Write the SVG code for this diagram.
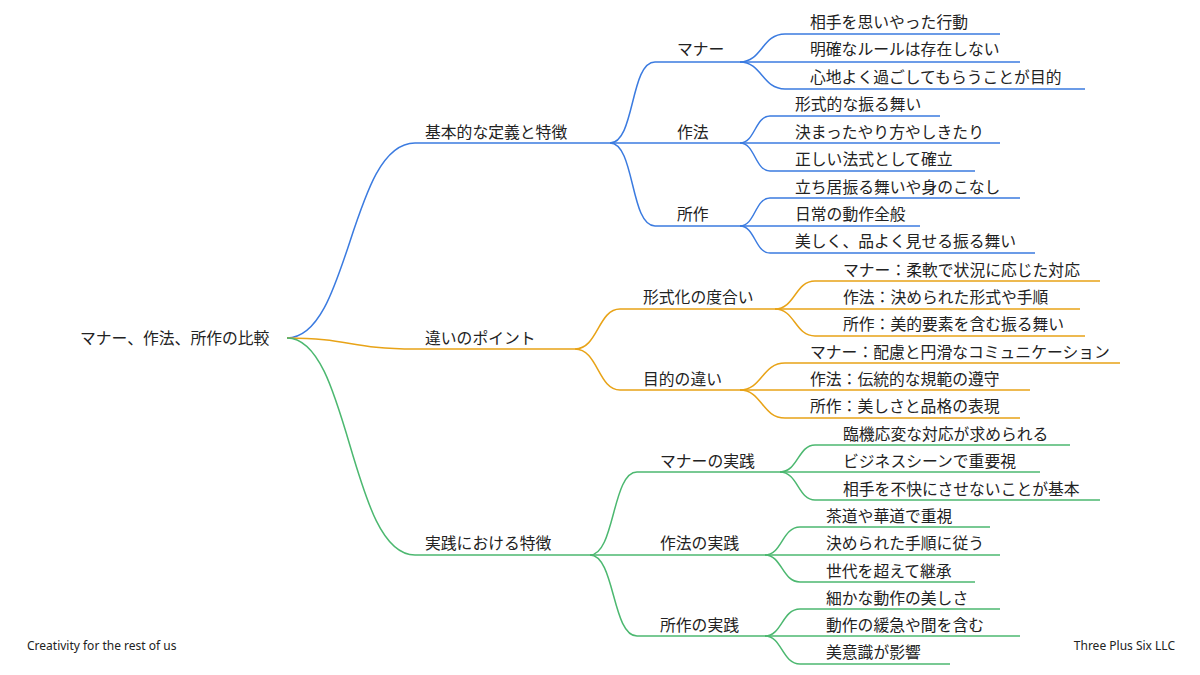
<svg xmlns="http://www.w3.org/2000/svg" width="1200" height="675" viewBox="0 0 1200 675">
<style>
text{font-family:"Noto Sans CJK JP","Noto Sans",sans-serif;font-size:15.8px;fill:#222;dominant-baseline:middle}
.f{font-family:"Noto Sans","Liberation Sans",sans-serif;font-size:12px}
path{fill:none;stroke-width:1.5}
.b path{stroke:#3b7be0}.o path{stroke:#e8a317}.g path{stroke:#4cb870}
</style>
<rect width="1200" height="675" fill="#fff"/>
<g id="connectors">
<g class="b">
<path d="M287,338 C350,338 350,143 415,143 H610"/>
<path d="M610,143 C635,143 630,62 655,62 H740"/>
<path d="M740,62 C762,62 762,34 785,34 H1000"/>
<path d="M740,62 C762,62 762,62 785,62 H1020"/>
<path d="M740,62 C762,62 762,89 785,89 H1085"/>
<path d="M610,143 C635,143 630,143 655,143 H740"/>
<path d="M740,143 C755,143 755,116 770,116 H940"/>
<path d="M740,143 C755,143 755,143 770,143 H1000"/>
<path d="M740,143 C755,143 755,171 770,171 H975"/>
<path d="M610,143 C635,143 630,226 655,226 H740"/>
<path d="M740,226 C755,226 755,198 770,198 H1020"/>
<path d="M740,226 C755,226 755,226 770,226 H920"/>
<path d="M740,226 C755,226 755,253 770,253 H1035"/>
</g>
<g class="o">
<path d="M287,338 C350,338 350,349 415,349 H575"/>
<path d="M575,349 C598,349 598,309 620,309 H775"/>
<path d="M775,309 C795,309 795,281 815,281 H1100"/>
<path d="M775,309 C795,309 795,309 815,309 H1080"/>
<path d="M775,309 C795,309 795,336 815,336 H1085"/>
<path d="M575,349 C598,349 598,390 620,390 H740"/>
<path d="M740,390 C762,390 762,363 785,363 H1120"/>
<path d="M740,390 C762,390 762,390 785,390 H1030"/>
<path d="M740,390 C762,390 762,418 785,418 H1020"/>
</g>
<g class="g">
<path d="M287,338 C350,338 350,555 415,555 H590"/>
<path d="M590,555 C615,555 612,472 637,472 H780"/>
<path d="M780,472 C798,472 798,445 815,445 H1070"/>
<path d="M780,472 C798,472 798,472 815,472 H1040"/>
<path d="M780,472 C798,472 798,500 815,500 H1100"/>
<path d="M590,555 C615,555 612,555 637,555 H765"/>
<path d="M765,555 C782,555 782,527 800,527 H990"/>
<path d="M765,555 C782,555 782,555 800,555 H1000"/>
<path d="M765,555 C782,555 782,582 800,582 H975"/>
<path d="M590,555 C615,555 612,636 637,636 H765"/>
<path d="M765,636 C782,636 782,609 800,609 H1000"/>
<path d="M765,636 C782,636 782,636 800,636 H1020"/>
<path d="M765,636 C782,636 782,664 800,664 H950"/>
</g>
</g>
<g transform="translate(0,2)">
<g id="root"><text x="80" y="338">マナー、作法、所作の比較</text></g>
<g id="n1"><text x="425" y="132">基本的な定義と特徴</text></g>
<g id="n11"><text x="677" y="49">マナー</text></g>
<g id="n111"><text x="810" y="22">相手を思いやった行動</text></g>
<g id="n112"><text x="810" y="49">明確なルールは存在しない</text></g>
<g id="n113"><text x="810" y="77">心地よく過ごしてもらうことが目的</text></g>
<g id="n12"><text x="677" y="132">作法</text></g>
<g id="n121"><text x="795" y="104">形式的な振る舞い</text></g>
<g id="n122"><text x="795" y="132">決まったやり方やしきたり</text></g>
<g id="n123"><text x="795" y="159">正しい法式として確立</text></g>
<g id="n13"><text x="677" y="214">所作</text></g>
<g id="n131"><text x="795" y="187">立ち居振る舞いや身のこなし</text></g>
<g id="n132"><text x="795" y="214">日常の動作全般</text></g>
<g id="n133"><text x="795" y="241">美しく、品よく見せる振る舞い</text></g>
<g id="n2"><text x="425" y="338">違いのポイント</text></g>
<g id="n21"><text x="643" y="297">形式化の度合い</text></g>
<g id="n211"><text x="843" y="270">マナー：柔軟で状況に応じた対応</text></g>
<g id="n212"><text x="843" y="297">作法：決められた形式や手順</text></g>
<g id="n213"><text x="843" y="324">所作：美的要素を含む振る舞い</text></g>
<g id="n22"><text x="643" y="379">目的の違い</text></g>
<g id="n221"><text x="810" y="352">マナー：配慮と円滑なコミュニケーション</text></g>
<g id="n222"><text x="810" y="379">作法：伝統的な規範の遵守</text></g>
<g id="n223"><text x="810" y="406">所作：美しさと品格の表現</text></g>
<g id="n3"><text x="425" y="543">実践における特徴</text></g>
<g id="n31"><text x="660" y="461">マナーの実践</text></g>
<g id="n311"><text x="843" y="434">臨機応変な対応が求められる</text></g>
<g id="n312"><text x="843" y="461">ビジネスシーンで重要視</text></g>
<g id="n313"><text x="843" y="489">相手を不快にさせないことが基本</text></g>
<g id="n32"><text x="660" y="543">作法の実践</text></g>
<g id="n321"><text x="826" y="516">茶道や華道で重視</text></g>
<g id="n322"><text x="826" y="543">決められた手順に従う</text></g>
<g id="n323"><text x="826" y="571">世代を超えて継承</text></g>
<g id="n33"><text x="660" y="625">所作の実践</text></g>
<g id="n331"><text x="826" y="598">細かな動作の美しさ</text></g>
<g id="n332"><text x="826" y="625">動作の緩急や間を含む</text></g>
<g id="n333"><text x="826" y="652">美意識が影響</text></g>
</g>
<text class="f" x="27" y="647">Creativity for the rest of us</text>
<text class="f" x="1175" y="647" text-anchor="end">Three Plus Six LLC</text>
</svg>
